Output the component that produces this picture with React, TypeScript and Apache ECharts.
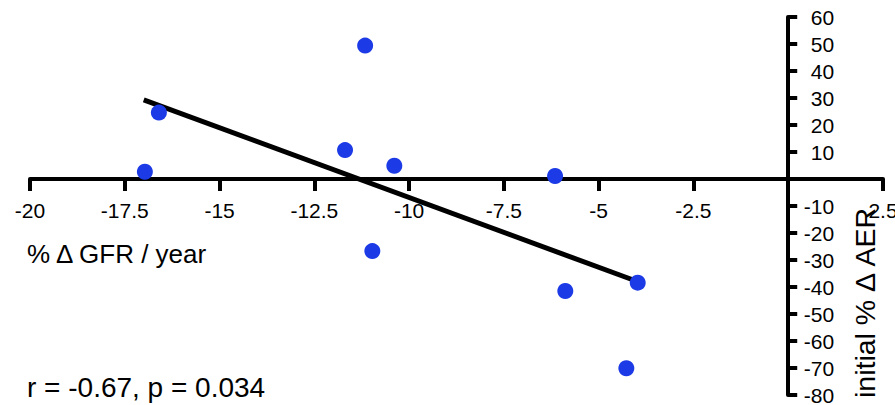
import React, { useEffect, useRef } from "react";
import * as echarts from "echarts";

const gfrChange: number[] = [-16.97, -16.6, -11.16, -11.69, -10.39, -6.15, -10.97, -5.88, -3.97, -4.27];
const aerChange: number[] = [2.7, 24.6, 49.4, 10.7, 4.9, 1.1, -26.7, -41.5, -38.4, -70.1];
const fitX: number[] = [-17.0, -4.05];
const fitY: number[] = [29.3, -37.6];
const xLabel = "% Δ GFR / year";
const yLabel = "initial % Δ AER";
const statText = "r = -0.67, p = 0.034";

const FONT = "'Liberation Sans', Arial, Helvetica, sans-serif";

const W = 895;
const H = 405;
const G_LEFT = 30;
const G_RIGHT = 12;
const G_TOP = 17;
const G_BOTTOM = 10;
const X_MIN = -20;
const X_MAX = 2.5;
const Y_MIN = -80;
const Y_MAX = 60;

export default function App() {
  const ref = useRef<HTMLDivElement>(null);
  useEffect(() => {
    if (!ref.current) return;
    const chart = echarts.init(ref.current, undefined, { renderer: "svg" });
    const points = gfrChange.map((x, i) => [x, aerChange[i]]);
    const fit = fitX.map((x, i) => [x, fitY[i]]);
    const fmt = (v: number) => (Math.abs(v) < 1e-9 ? "" : String(v));
    const gw = W - G_LEFT - G_RIGHT;
    const gh = H - G_TOP - G_BOTTOM;
    // offsets so that the axes sit on the zero lines (labels follow)
    const xOffset = -(gh * (0 - Y_MIN)) / (Y_MAX - Y_MIN);
    const yOffset = -(gw * (0 - X_MIN)) / (X_MAX - X_MIN);
    chart.setOption({
      animation: false,
      backgroundColor: "#ffffff",
      grid: {
        left: G_LEFT,
        right: G_RIGHT,
        top: G_TOP,
        bottom: G_BOTTOM,
        containLabel: false,
        outerBoundsMode: "none",
      },
      xAxis: {
        type: "value",
        position: "bottom",
        offset: xOffset,
        min: X_MIN,
        max: X_MAX,
        interval: 2.5,
        splitLine: { show: false },
        axisLine: { onZero: false, lineStyle: { color: "#000", width: 4 } },
        axisTick: { show: true, inside: false, length: 12, lineStyle: { color: "#000", width: 4 } },
        axisLabel: {
          margin: 21,
          color: "#000",
          fontSize: 21,
          fontFamily: FONT,
          formatter: fmt,
          showMinLabel: true,
          showMaxLabel: true,
          hideOverlap: false,
        },
      },
      yAxis: {
        type: "value",
        position: "left",
        offset: yOffset,
        min: Y_MIN,
        max: Y_MAX,
        interval: 10,
        splitLine: { show: false },
        axisLine: { onZero: false, lineStyle: { color: "#000", width: 4 } },
        axisTick: { show: true, inside: true, length: 9, lineStyle: { color: "#000", width: 4 } },
        axisLabel: {
          inside: true,
          margin: 46,
          align: "right",
          color: "#000",
          fontSize: 21,
          fontFamily: FONT,
          formatter: fmt,
          showMinLabel: true,
          showMaxLabel: true,
          hideOverlap: false,
        },
      },
      series: [
        {
          type: "line",
          data: fit,
          showSymbol: false,
          symbol: "none",
          lineStyle: { color: "#000", width: 5 },
          z: 2,
        },
        {
          type: "scatter",
          data: points,
          symbol: "circle",
          symbolSize: 16,
          itemStyle: { color: "#1c3ae6", opacity: 1 },
          z: 3,
        },
      ],
      graphic: [
        {
          type: "text",
          left: 27,
          top: 241,
          style: { text: xLabel, fontSize: 26, fontFamily: FONT, fill: "#000" },
        },
        {
          type: "text",
          left: 27,
          top: 373,
          style: { text: statText, fontSize: 28, fontFamily: FONT, fill: "#000" },
        },
        {
          type: "text",
          x: 865,
          y: 303,
          rotation: Math.PI / 2,
          style: {
            text: yLabel,
            fontSize: 28.5,
            fontFamily: FONT,
            fill: "#000",
            align: "center",
            verticalAlign: "middle",
          },
        },
      ],
    });
    return () => chart.dispose();
  }, []);
  return (
    <div
      ref={ref}
      style={{ position: "fixed", left: 0, top: 0, width: W, height: H, background: "#fff" }}
    />
  );
}
